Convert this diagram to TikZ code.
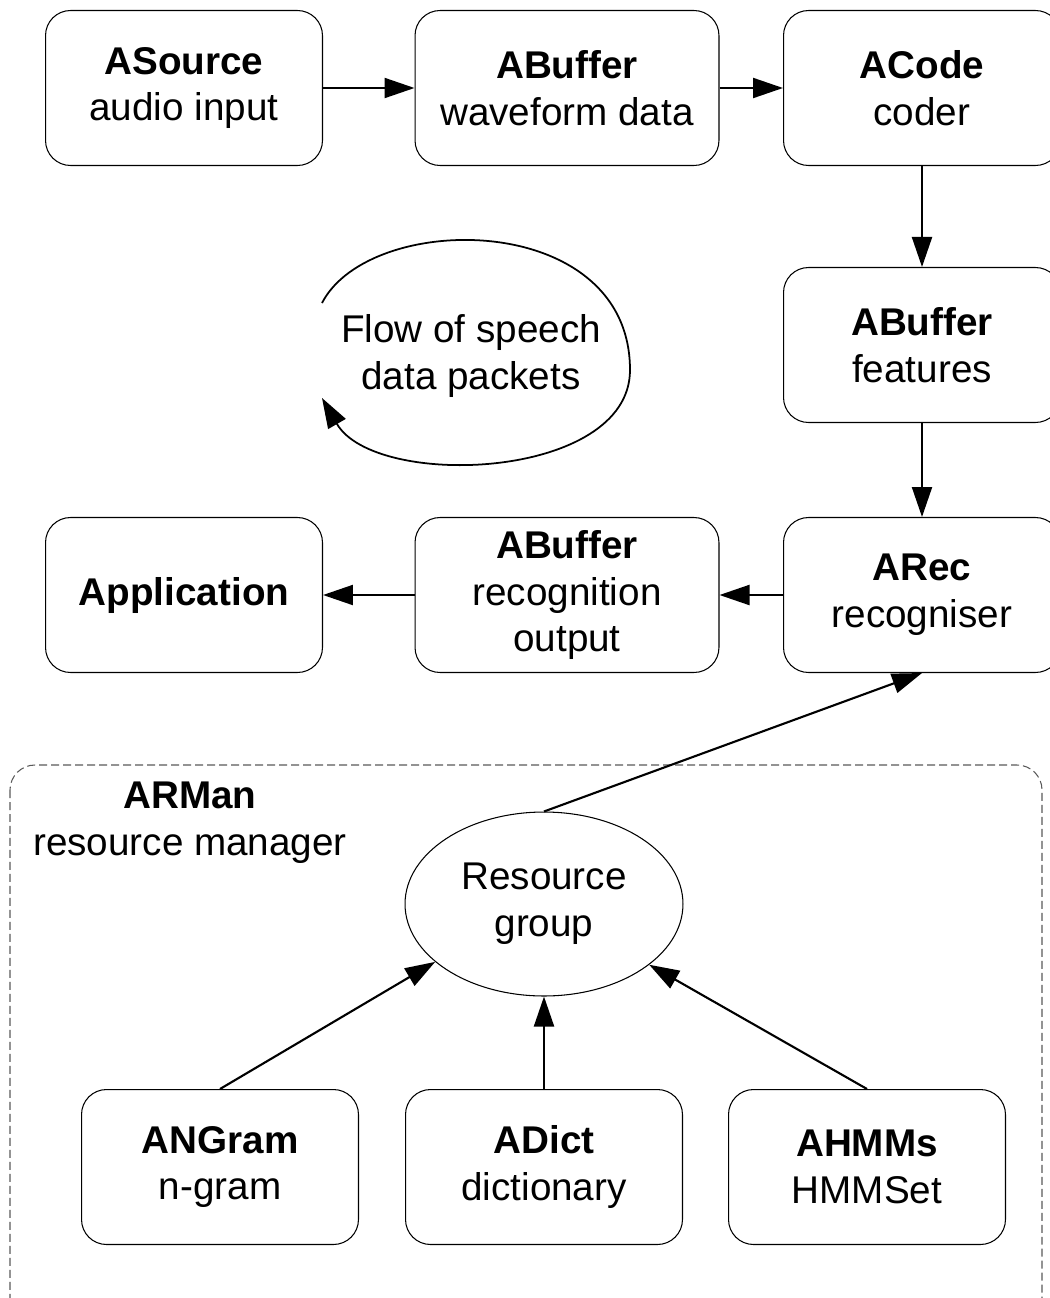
\documentclass[tikz,border=0pt]{standalone}
\usepackage{fontspec}
\setmainfont{Liberation Sans}
\usetikzlibrary{arrows.meta,shapes.geometric}
\begin{document}
\begin{tikzpicture}[x=0.02cm,y=-0.02cm,
        every node/.style={font=\fontsize{22}{26.7}\selectfont,align=center},
        comp/.style={draw,rounded corners=0.5cm,line width=0.6pt,minimum width=5.54cm,minimum height=3.1cm},
        widecomp/.style={comp,minimum width=6.08cm},
        flow/.style={-{Triangle[length=0.6cm,width=0.4cm]},line width=1.2pt}]
        \useasboundingbox (0,0) rectangle (1050,1298);

        % Speech pipeline
        \node[comp] (source) at (184,88) {\textbf{ASource}\\audio input};
        \node[widecomp] (wavebuf) at (567,88) {\textbf{ABuffer}\\waveform data};
        \node[comp] (coder) at (922,88) {\textbf{ACode}\\coder};
        \node[comp] (featbuf) at (922,345) {\textbf{ABuffer}\\features};
        \node[comp] (rec) at (922,595) {\textbf{ARec}\\recogniser};
        \node[widecomp] (recbuf) at (567,595) {\textbf{ABuffer}\\recognition\\output};
        \node[comp] (app) at (184,595) {\textbf{Application}};

        \draw[flow] (source) -- (wavebuf);
        \draw[flow] (wavebuf) -- (coder);
        \draw[flow] (coder) -- (featbuf);
        \draw[flow] (featbuf) -- (rec);
        \draw[flow] (rec) -- (recbuf);
        \draw[flow] (recbuf) -- (app);

        % Flow loop
        \node (flowtext) at (471,356) {Flow of speech\\data packets};
        \coordinate (loopstart) at (322,303);
        \coordinate (loopend) at (322,398);
        \draw[flow,line width=1pt] (loopstart) .. controls (370,210) and (630,210) .. (630,370)
            .. controls (630,480) and (375,490) .. (loopend);

        % Resource manager
        \draw[dashed,dash pattern=on 0.16cm off 0.08cm,black!65,line width=0.6pt,rounded corners=0.5cm]
            (10,765) rectangle (1042,1340);
        \node (arman) at (190,823) {\textbf{ARMan}\\resource manager};
        \node[draw,ellipse,line width=0.6pt,minimum width=5.56cm,minimum height=3.68cm] (group) at (544,904) {Resource\\group};
        \node[comp] (ngram) at (220,1167) {\textbf{ANGram}\\n-gram};
        \node[comp] (dict) at (544,1167) {\textbf{ADict}\\dictionary};
        \node[comp] (hmms) at (867,1167) {\textbf{AHMMs}\\HMMSet};

        \draw[flow] (group.north) -- (rec.south);
        \draw[flow] (ngram.north) -- (group.208);
        \draw[flow] (dict) -- (group);
        \draw[flow] (hmms.north) -- (group.330);
    \end{tikzpicture}
\end{document}
